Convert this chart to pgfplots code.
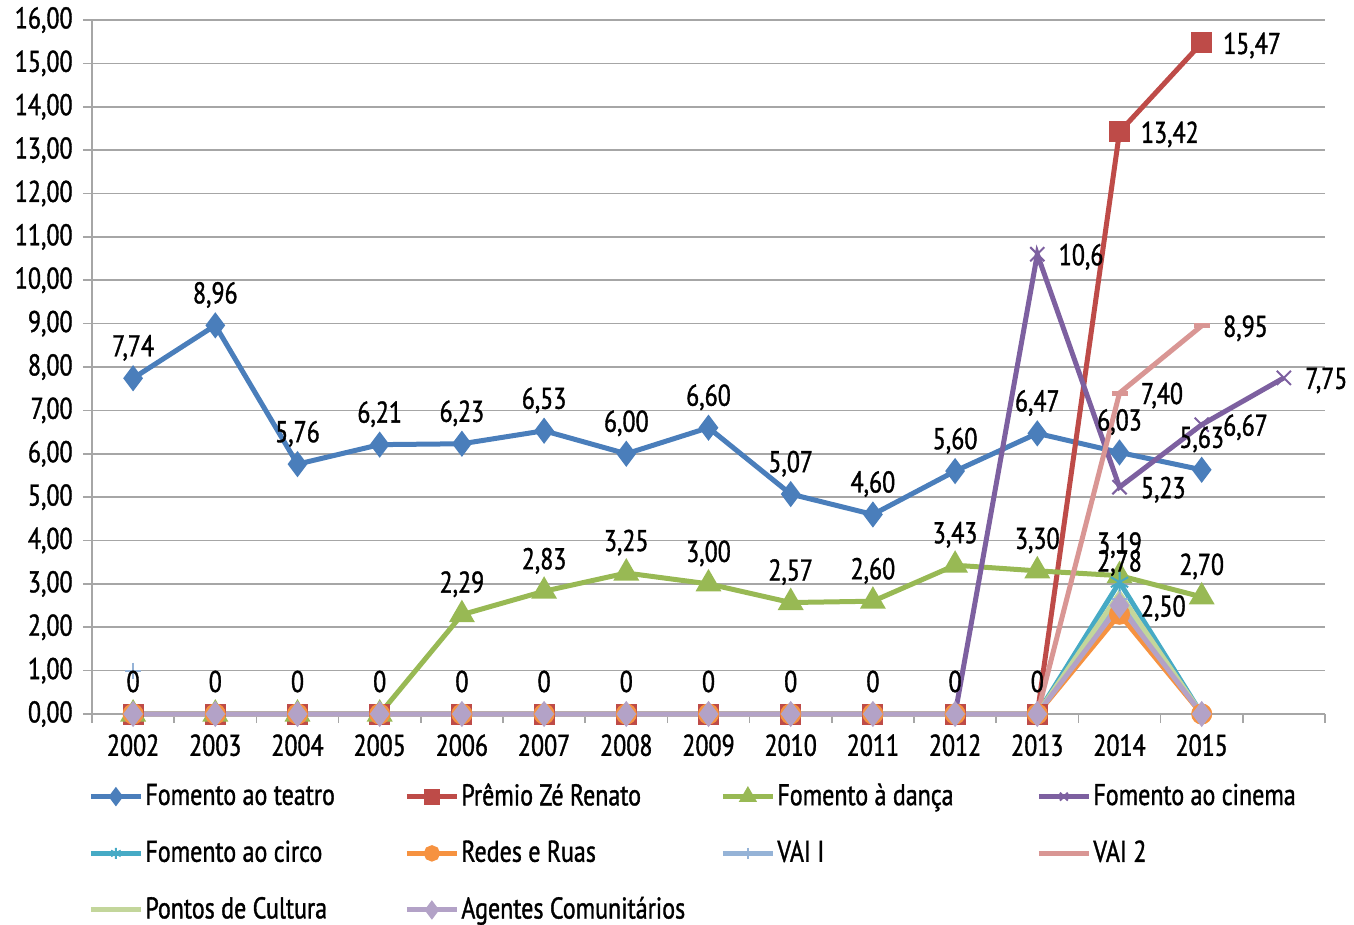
\documentclass[border=0pt]{standalone}
\usepackage{pgfplots}
\pgfplotsset{compat=1.18}
\usepackage{fontspec}
\setmainfont[FakeStretch=0.8,FakeBold=1.2]{PT Sans}
\definecolor{gridgray}{HTML}{A6A6A6}
\definecolor{cteatro}{HTML}{4A7EBB}
\definecolor{cpremio}{HTML}{BE4B48}
\definecolor{cdanca}{HTML}{98B954}
\definecolor{ccinema}{HTML}{7D60A0}
\definecolor{ccirco}{HTML}{46AAC5}
\definecolor{credes}{HTML}{F69240}
\definecolor{cvai1}{HTML}{95B3D7}
\definecolor{cvai2}{HTML}{D99694}
\definecolor{cpontos}{HTML}{C3D69B}
\definecolor{cagentes}{HTML}{B3A2C7}
\begin{document}
\fontsize{15}{18}\selectfont
\begin{tikzpicture}
\path[use as bounding box] (-46pt,-105.5pt) rectangle (631pt,357pt);
\begin{axis}[
  scale only axis, width=616.5pt, height=347pt,
  at={(0,0)}, anchor=south west,
  xmin=-0.5, xmax=14.5, ymin=0, ymax=16,
  axis lines*=left,
  axis line style={draw=gridgray, line width=0.8pt},
  xtick={-0.5,0.5,...,14.5},
  x tick label as interval,
  xticklabels={2002,2003,2004,2005,2006,2007,2008,2009,2010,2011,2012,2013,2014,2015,{}},
  ytick={0,1,...,16},
  ymajorgrids, major grid style={draw=gridgray, line width=0.8pt},
  tick style={draw=gridgray, line width=0.8pt},
  tick align=outside, major tick length=4.5pt,
  xticklabel style={yshift=-0.5pt},
  yticklabel style={/pgf/number format/fixed, /pgf/number format/fixed zerofill, /pgf/number format/precision=2, /pgf/number format/use comma, /pgf/number format/assume math mode=true},
  clip=false,
  legend columns=4,
  legend cell align=left,
  legend image code/.code={\draw[mark repeat=2,mark phase=2,#1] plot coordinates {(0pt,0pt) (12.5pt,0pt) (25pt,0pt)};},
  legend image post style={mark size=2.8pt},
  legend style={at={(0,0)}, anchor=north west, xshift=-2pt, yshift=-33.5pt, draw=none, fill=none, inner sep=0pt, row sep=13.3pt, column sep=0pt, nodes={inner sep=1pt}},
  every axis plot/.append style={line width=2.5pt},
]
% Fomento ao teatro
\addplot[cteatro, mark=diamond*, mark size=4.5pt] coordinates {
(0,7.74) (1,8.96) (2,5.76) (3,6.21) (4,6.23) (5,6.53) (6,6.00) (7,6.60) (8,5.07) (9,4.60) (10,5.60) (11,6.47) (12,6.03) (13,5.63)};
\addlegendentry{\makebox[128.5pt][l]{Fomento ao teatro}}
% Premio Ze Renato
\addplot[cpremio, mark=square*, mark size=4pt] coordinates {
(0,0) (1,0) (2,0) (3,0) (4,0) (5,0) (6,0) (7,0) (8,0) (9,0) (10,0) (11,0) (12,13.42) (13,15.47)};
\addlegendentry{\makebox[128.5pt][l]{Prêmio Zé Renato}}
% Fomento a danca
\addplot[cdanca, mark=triangle*, mark size=5pt] coordinates {
(0,0) (1,0) (2,0) (3,0) (4,2.29) (5,2.83) (6,3.25) (7,3.00) (8,2.57) (9,2.60) (10,3.43) (11,3.30) (12,3.19) (13,2.70)};
\addlegendentry{\makebox[128.5pt][l]{Fomento à dança}}
% Fomento ao cinema
\addplot[ccinema, mark=x, mark size=5pt, mark options={line width=1pt}] coordinates {
(0,0) (1,0) (2,0) (3,0) (4,0) (5,0) (6,0) (7,0) (8,0) (9,0) (10,0) (11,10.6) (12,5.23) (13,6.67) (14,7.75)};
\addlegendentry{\makebox[128.5pt][l]{Fomento ao cinema}}
% Fomento ao circo
\addplot[ccirco, mark=asterisk, mark size=5pt, mark options={line width=1pt}] coordinates {
(0,0) (1,0) (2,0) (3,0) (4,0) (5,0) (6,0) (7,0) (8,0) (9,0) (10,0) (11,0) (12,3.04) (13,0)};
\addlegendentry{\makebox[128.5pt][l]{Fomento ao circo}}
% Redes e Ruas
\addplot[credes, mark=*, mark size=4pt] coordinates {
(0,0) (1,0) (2,0) (3,0) (4,0) (5,0) (6,0) (7,0) (8,0) (9,0) (10,0) (11,0) (12,2.30) (13,0)};
\addlegendentry{\makebox[128.5pt][l]{Redes e Ruas}}
% VAI I
\addplot[cvai1, mark=+, mark size=4pt, mark options={line width=1pt}] coordinates {
(0,0) (1,0) (2,0) (3,0) (4,0) (5,0) (6,0) (7,0) (8,0) (9,0) (10,0) (11,0) (12,2.65) (13,0)};
\addlegendentry{\makebox[128.5pt][l]{VAI I}}
\addplot[cvai1, only marks, mark=+, mark size=4pt, mark options={line width=1pt}, forget plot] coordinates {(0,1.0)};
% VAI 2
\addplot[cvai2, mark=-, mark size=4pt, mark options={line width=2.5pt}] coordinates {
(0,0) (1,0) (2,0) (3,0) (4,0) (5,0) (6,0) (7,0) (8,0) (9,0) (10,0) (11,0) (12,7.40) (13,8.95)};
\addlegendentry{\makebox[128.5pt][l]{VAI 2}}
% Pontos de Cultura
\addplot[cpontos, mark=none] coordinates {
(0,0) (1,0) (2,0) (3,0) (4,0) (5,0) (6,0) (7,0) (8,0) (9,0) (10,0) (11,0) (12,2.78) (13,0)};
\addlegendentry{\makebox[128.5pt][l]{Pontos de Cultura}}
% Agentes Comunitarios
\addplot[cagentes, mark=diamond*, mark size=4.5pt] coordinates {
(0,0) (1,0) (2,0) (3,0) (4,0) (5,0) (6,0) (7,0) (8,0) (9,0) (10,0) (11,0) (12,2.50) (13,0)};
\addlegendentry{\makebox[128.5pt][l]{Agentes Comunitários}}

% ---- data labels above points ----
\addplot[draw=none, mark=none, forget plot, nodes near coords, point meta=explicit symbolic,
  every node near coord/.append style={anchor=base, yshift=11pt, inner sep=0pt, text=black}] coordinates {
(0,7.74) [7{,}74] (1,8.96) [8{,}96] (2,5.76) [5{,}76] (3,6.21) [6{,}21] (4,6.23) [6{,}23] (5,6.53) [6{,}53] (6,6.00) [6{,}00] (7,6.60) [6{,}60] (8,5.07) [5{,}07] (9,4.60) [4{,}60] (10,5.60) [5{,}60] (11,6.47) [6{,}47] (12,6.03) [6{,}03] (13,5.63) [5{,}63]
(0,0) [0] (1,0) [0] (2,0) [0] (3,0) [0] (4,0) [0] (5,0) [0] (6,0) [0] (7,0) [0] (8,0) [0] (9,0) [0] (10,0) [0] (11,0) [0]
(4,2.29) [2{,}29] (5,2.83) [2{,}83] (6,3.25) [3{,}25] (7,3.00) [3{,}00] (8,2.57) [2{,}57] (9,2.60) [2{,}60] (10,3.43) [3{,}43] (11,3.30) [3{,}30] (12,3.19) [3{,}19] (13,2.70) [2{,}70]
(12,2.78) [2{,}78]};
% ---- data labels right of points ----
\addplot[draw=none, mark=none, forget plot, nodes near coords, point meta=explicit symbolic,
  every node near coord/.append style={anchor=base west, xshift=9.5pt, yshift=-5.5pt, inner sep=0pt, text=black}] coordinates {
(12,13.42) [13{,}42] (13,15.47) [15{,}47]
(11,10.6) [10{,}6] (12,5.23) [5{,}23] (13,6.67) [6{,}67] (14,7.75) [7{,}75]
(12,7.40) [7{,}40] (13,8.95) [8{,}95]
(12,2.50) [2{,}50]};
\end{axis}
\end{tikzpicture}
\end{document}
